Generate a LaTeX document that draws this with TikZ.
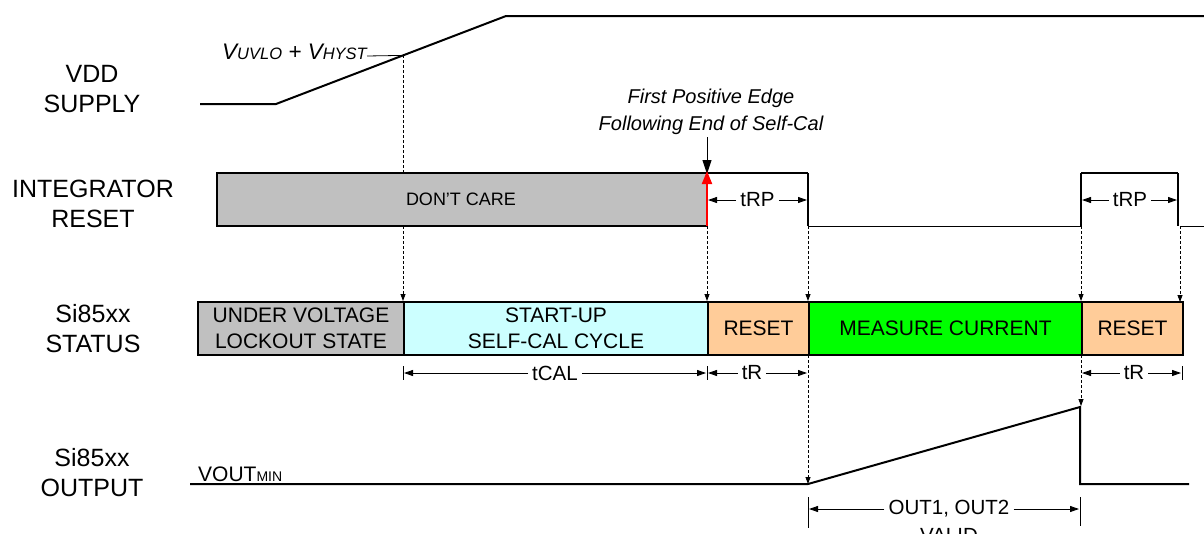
\documentclass[tikz,border=0pt]{standalone}
\usepackage{fontspec}
\setmainfont{Liberation Sans}
\usetikzlibrary{arrows.meta}
\definecolor{dcgray}{HTML}{C0C0C0}
\definecolor{calcyan}{HTML}{CCFFFF}
\definecolor{rstorange}{HTML}{FFCC99}
\definecolor{measgreen}{HTML}{00FF00}
\begin{document}
\begin{tikzpicture}[x=1pt,y=-1pt,
  sig/.style={line width=2pt},
  thinsig/.style={line width=1pt},
  guide/.style={densely dashed, line width=0.8pt},
  guidetip/.style={densely dashed, line width=0.8pt, -{Triangle[length=7pt,width=5pt]}},
  dimline/.style={line width=0.9pt, -{Triangle[length=9pt,width=6pt]}},
  tick/.style={line width=0.9pt},
  lbl/.style={font=\fontsize{25}{30}\selectfont, align=center, inner sep=0pt},
  boxtxt/.style={font=\fontsize{21}{26}\selectfont, align=center, inner sep=0pt},
  dimtxt/.style={font=\fontsize{20.5}{24}\selectfont, inner sep=4pt},
  stbox/.style={draw, line width=2pt, minimum height=53pt, inner sep=0pt, anchor=west},
]
\useasboundingbox (0,0) rectangle (1204,533);

% ---------- left labels ----------
\node[lbl] (lvdd) at (92,89.5) {VDD\\SUPPLY};
\node[lbl] (lint) at (93,204) {INTEGRATOR\\RESET};
\node[lbl] (lstat) at (93,329) {Si85xx\\STATUS};
\node[lbl] (lout) at (92,473) {Si85xx\\OUTPUT};

% ---------- VDD supply ----------
\coordinate (v0) at (200,104);
\coordinate (v1) at (276,104);
\coordinate (v2) at (506,16);
\coordinate (v3) at (1204,16);
\coordinate (vth) at (403,55.4);
\draw[sig] (v0) -- (v1) -- (v2) -- (v3);
\node[font=\fontsize{22.5}{24}\selectfont\itshape, anchor=base east, inner sep=0pt] (vlab) at (367,59)
  {V{\fontsize{16.5}{18}\selectfont UVLO} + V{\fontsize{16.5}{18}\selectfont HYST}};
\draw[line width=0.8pt] (vlab.base east) ++(0,-3) coordinate (vl) -- (vth);

% ---------- integrator reset ----------
\coordinate (i0) at (217,173);
\coordinate (ifx) at (707,173);
\coordinate (ifxl) at (707,226);
\coordinate (ip1) at (808,173);
\coordinate (ip1l) at (808,226);
\coordinate (ip2) at (1081,226);
\coordinate (ip2h) at (1081,173);
\coordinate (ip3) at (1178,173);
\coordinate (ip3l) at (1178,226);
\coordinate (ip4) at (1180,226);
\coordinate (ip5) at (1204,226);
\draw[sig, fill=dcgray] (i0) rectangle (ifxl);
\node[font=\fontsize{18}{20}\selectfont, inner sep=0pt] (dc) at (461,199) {DON'T CARE};
\draw[sig] (ifx) -- (ip1);
\draw[line width=1.3pt] (ip1) -- (ip1l);
\draw[thinsig] (ip1l) -- (ip2);
\draw[line width=1.3pt] (ip2) -- (ip2h);
\draw[sig] (ip2h) -- (ip3);
\draw[line width=1.3pt] (ip3) -- (ip3l);
\draw[thinsig] (ip4) -- (ip5);

% first positive edge annotation
\node[font=\fontsize{20}{27}\selectfont\itshape, align=center, inner sep=0pt] (fpe) at (711,111.5)
  {First Positive Edge\\Following End of Self-Cal};
\coordinate (fpa) at (707,137);
\draw[line width=1pt, -{Triangle[length=14pt,width=9pt]}] (fpa) -- ([yshift=-1pt]ifx);
\draw[red, line width=2pt, -{Triangle[length=13pt,width=10pt]}] (ifxl) -- ([yshift=2pt]ifx);

% tRP dimensions
\node[dimtxt] (trp1) at (757.5,200) {tRP};
\draw[dimline] (trp1.west) -- (708,200);
\draw[dimline] (trp1.east) -- (807,200);
\node[dimtxt] (trp2) at (1130,200) {tRP};
\draw[dimline] (trp2.west) -- (1082,200);
\draw[dimline] (trp2.east) -- (1177,200);

% ---------- status boxes ----------
\node[stbox, fill=dcgray, minimum width=206pt] (uvlo) at (197,328.5) {};
\node[stbox, fill=calcyan, minimum width=304pt] (cal) at (403,328.5) {};
\node[stbox, fill=rstorange, minimum width=101pt] (rst1) at (707,328.5) {};
\node[stbox, fill=measgreen, minimum width=273pt] (meas) at (808,328.5) {};
\node[stbox, fill=rstorange, minimum width=101pt] (rst2) at (1081,328.5) {};
\node[boxtxt] at (uvlo.center) {UNDER VOLTAGE\\LOCKOUT STATE};
\node[boxtxt] at (cal.center) {START-UP\\SELF-CAL CYCLE};
\node[boxtxt] at (rst1.center) {RESET};
\node[boxtxt] at (meas.center) {MEASURE CURRENT};
\node[boxtxt] at (rst2.center) {RESET};

% ---------- guide lines ----------
\draw[guide] (vth) -- (403,173);
\draw[guidetip] (403,226) -- (cal.north west);
\draw[guidetip] (ifxl) -- (rst1.north west);
\draw[guidetip] (ip1l) -- (meas.north west);
\draw[guidetip] (ip2) -- (rst2.north west);
\draw[guidetip] (ip4) -- (1180,302);

% ---------- tCAL / tR dimensions ----------
\node[dimtxt] (tcal) at (555,373) {tCAL};
\draw[dimline] (tcal.west) -- (404,373);
\draw[dimline] (tcal.east) -- (706,373);
\node[dimtxt] (tr1) at (752,373) {tR};
\draw[dimline] (tr1.west) -- (708,373);
\draw[dimline] (tr1.east) -- (807,373);
\node[dimtxt] (tr2) at (1134,373) {tR};
\draw[dimline] (tr2.west) -- (1082,373);
\draw[dimline] (tr2.east) -- (1181,373);
\draw[tick] (403,366) -- (403,380);
\draw[tick] (707,366) -- (707,380);
\draw[tick] (1182,366) -- (1182,380);

% ---------- output ----------
\coordinate (o0) at (190,484);
\coordinate (o1) at (808,484);
\coordinate (o2) at (1080,407);
\coordinate (o3) at (1080,484);
\coordinate (o4) at (1189,484);
\draw[sig] (o0) -- (o1) -- (o2) -- (o3) -- (o4);
\node[font=\fontsize{21}{24}\selectfont, anchor=base west, inner sep=0pt] (voutmin) at (198,481)
  {VOUT{\fontsize{14}{16}\selectfont MIN}};
\draw[guidetip] (808,355) -- (o1);
\draw[guidetip] (1081,355) -- (1081,406);

% OUT1, OUT2 VALID
\node[dimtxt] (valid) at (949,509) {OUT1, OUT2};
\node[font=\fontsize{20.5}{24}\selectfont, inner sep=0pt] (valid2) at (949,535) {VALID};
\draw[dimline] (valid.west) -- (809,509);
\draw[dimline] (valid.east) -- (1079,509);
\draw[tick] (808,497) -- (808,528);
\draw[tick] (1080,497) -- (1080,526);
\end{tikzpicture}
\end{document}
